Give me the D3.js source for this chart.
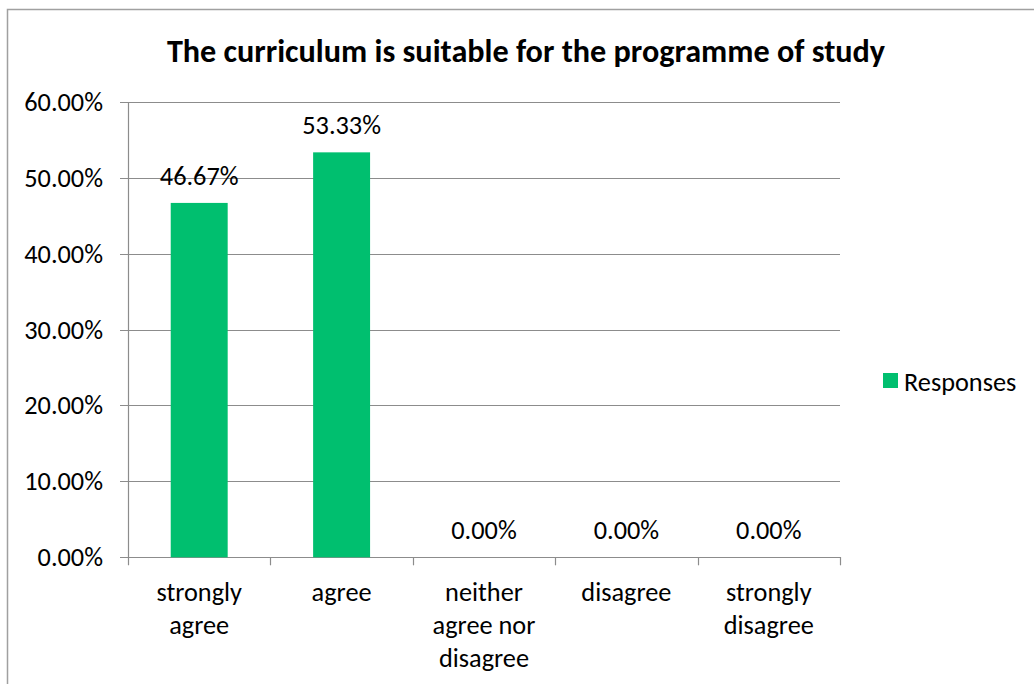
<!DOCTYPE html>
<html>
<head>
<meta charset="utf-8">
<script src="https://cdn.jsdelivr.net/npm/d3@7/dist/d3.min.js"></script>
<style>
  html, body { margin: 0; padding: 0; background: #fff; }
  svg { display: block; }
  text { font-family: Carlito, Calibri, Lato, "Open Sans", sans-serif; fill: #000; }
</style>
</head>
<body>
<svg id="chart" width="1034" height="684"></svg>
<script>
const title = "The curriculum is suitable for the programme of study";
const categories = ["strongly agree", "agree", "neither agree nor disagree", "disagree", "strongly disagree"];
const categoryLines = [["strongly", "agree"], ["agree"], ["neither", "agree nor", "disagree"], ["disagree"], ["strongly", "disagree"]];
const values = [0.4667, 0.5333, 0, 0, 0];
const yTicks = [0, 0.1, 0.2, 0.3, 0.4, 0.5, 0.6];
const seriesName = "Responses";
const barColor = "#00BF6F";
const gridColor = "#8c8c8c";
const fs = 26.3;

const svg = d3.select("#chart");

// outer chart border (only top & left visible in frame)
svg.append("rect")
  .attr("x", 7.5).attr("y", 9.5)
  .attr("width", 1200).attr("height", 900)
  .attr("fill", "none").attr("stroke", "#a0a0a0").attr("stroke-width", 1.5);

const plot = { left: 128, right: 840, top: 101.7, bottom: 557.3 };

const x = d3.scaleBand().domain(categories).range([plot.left, plot.right]).padding(0);
const y = d3.scaleLinear().domain([0, 0.6]).range([plot.bottom, plot.top]);

// gridlines + y tick marks
svg.append("g").selectAll("line").data(yTicks).join("line")
  .attr("x1", plot.left - 8).attr("x2", plot.right)
  .attr("y1", d => Math.round(y(d)) + 0.5).attr("y2", d => Math.round(y(d)) + 0.5)
  .attr("stroke", gridColor).attr("stroke-width", 1.2);

// y axis line
svg.append("line")
  .attr("x1", plot.left + 0.5).attr("x2", plot.left + 0.5)
  .attr("y1", Math.round(y(0.6)) + 0.5).attr("y2", plot.bottom + 8)
  .attr("stroke", gridColor).attr("stroke-width", 1.2);

// x tick marks at category boundaries
const boundaries = categories.map(c => x(c)).concat([plot.right]);
svg.append("g").selectAll("line").data(boundaries.slice(1)).join("line")
  .attr("x1", d => Math.round(d) + 0.5).attr("x2", d => Math.round(d) + 0.5)
  .attr("y1", Math.round(plot.bottom)).attr("y2", plot.bottom + 8)
  .attr("stroke", gridColor).attr("stroke-width", 1.2);

// y tick labels
svg.append("g").selectAll("text").data(yTicks).join("text")
  .attr("x", 103).attr("y", d => y(d) + 9)
  .attr("text-anchor", "end")
  .attr("font-size", fs)
  .text(d => d3.format(".2%")(d));

// bars
const barW = x.bandwidth() * 0.4;
svg.append("g").selectAll("rect").data(values).join("rect")
  .attr("x", (d, i) => x(categories[i]) + x.bandwidth() / 2 - barW / 2)
  .attr("width", barW)
  .attr("y", d => y(d))
  .attr("height", d => y(0) - y(d))
  .attr("fill", barColor);

// data labels
svg.append("g").selectAll("text").data(values).join("text")
  .attr("x", (d, i) => x(categories[i]) + x.bandwidth() / 2)
  .attr("y", d => y(d) - 18)
  .attr("text-anchor", "middle")
  .attr("font-size", fs)
  .text(d => d3.format(".2%")(d));

// category labels
categories.forEach((c, i) => {
  const t = svg.append("text")
    .attr("x", x(c) + x.bandwidth() / 2)
    .attr("y", 601)
    .attr("text-anchor", "middle")
    .attr("font-size", fs);
  categoryLines[i].forEach((line, j) => {
    t.append("tspan").attr("x", x(c) + x.bandwidth() / 2).attr("y", 601 + j * 33).text(line);
  });
});

// title
svg.append("text")
  .attr("x", 526).attr("y", 62)
  .attr("text-anchor", "middle")
  .attr("font-size", 32.2).attr("font-weight", "bold")
  .text(title);

// legend
svg.append("rect").attr("x", 883).attr("y", 373).attr("width", 15).attr("height", 15).attr("fill", barColor);
svg.append("text").attr("x", 904).attr("y", 391).attr("font-size", fs).text(seriesName);
</script>
</body>
</html>
